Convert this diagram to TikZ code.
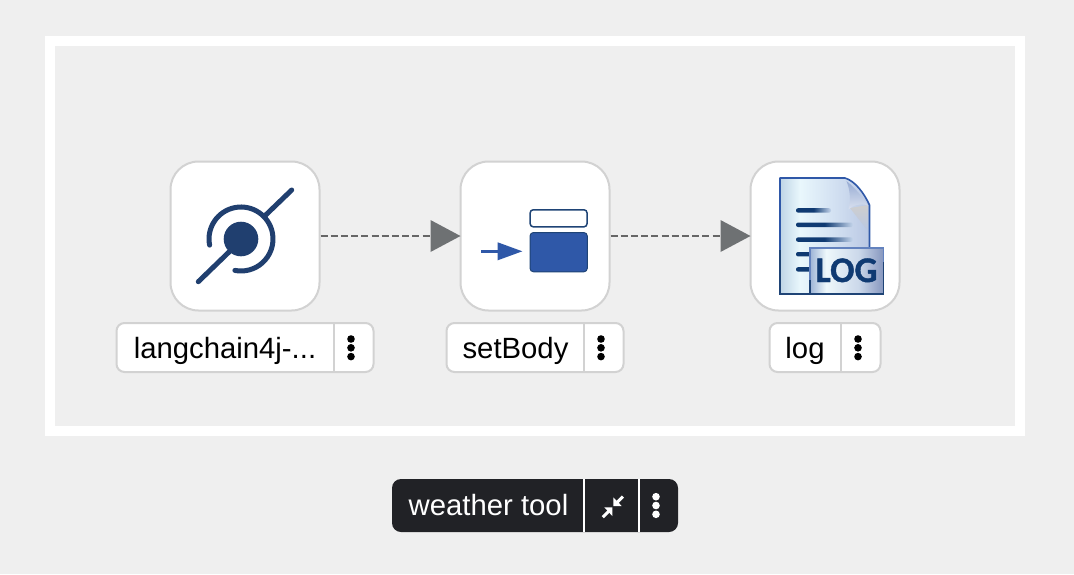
\documentclass[tikz,border=0pt]{standalone}
\usepackage{fontspec}
\setmainfont{Liberation Sans}
\newfontfamily\logfont[BoldFeatures={FakeBold=1.2}]{Carlito}
\usetikzlibrary{arrows.meta,calc}
\definecolor{bgc}{HTML}{EFEFEF}
\definecolor{edgec}{HTML}{D2D2D2}
\definecolor{navy}{HTML}{203F6F}
\definecolor{blu}{HTML}{2F58A8}
\definecolor{blud}{HTML}{1F4476}
\definecolor{tipc}{HTML}{6E7173}
\definecolor{dashc}{HTML}{666666}
\definecolor{darkc}{HTML}{212226}
\definecolor{logn}{HTML}{0F3A72}
\definecolor{pa}{HTML}{BFD5E6}
\definecolor{pb}{HTML}{E9F7FC}
\definecolor{pc}{HTML}{D3E1F2}
\definecolor{pd}{HTML}{B9C7E3}
\definecolor{ba}{HTML}{9DB4D6}
\definecolor{bb}{HTML}{EEF8FB}
\definecolor{bc}{HTML}{CBD8EA}
\definecolor{bd}{HTML}{8696BE}
\definecolor{fade}{HTML}{C6D6EC}
\pgfdeclarehorizontalshading{pageshade}{100bp}{color(0bp)=(pa); color(25bp)=(pa); color(36bp)=(pb); color(55bp)=(pc); color(75bp)=(pd); color(100bp)=(pd)}
\pgfdeclarehorizontalshading{boxshade}{100bp}{color(0bp)=(ba); color(25bp)=(ba); color(36bp)=(bb); color(58bp)=(bc); color(75bp)=(bd); color(100bp)=(bd)}
\pgfdeclarehorizontalshading{lineshade}{100bp}{color(0bp)=(logn); color(50bp)=(logn); color(75bp)=(fade); color(100bp)=(fade)}
\tikzset{
  x=1pt,y=-1pt,
  stepnode/.style={draw=edgec,line width=2pt,fill=white,rounded corners=28pt,minimum width=149pt,minimum height=149pt,inner sep=0pt,outer sep=0pt},
  labelbox/.style={draw=edgec,line width=2pt,fill=white,rounded corners=8pt,minimum height=49pt,inner sep=0pt},
  darkbox/.style={fill=darkc,rounded corners=9pt,minimum height=53pt,minimum width=286pt,inner sep=0pt},
  labeltext/.style={text=black,font=\fontsize{29.3}{34}\selectfont,inner sep=0pt,anchor=base},
  flow/.style={draw=dashc,line width=2pt,dash pattern=on 7pt off 3.2pt,shorten <=1pt,-{Triangle[length=30pt,width=32pt,color=tipc,fill=tipc,line width=0pt]}},
  iconline/.style={navy,line width=5pt,line cap=round},
  kebab/.style={circle,fill=black,minimum size=7.6pt,inner sep=0pt},
}
\begin{document}
\begin{tikzpicture}
\useasboundingbox (0,0) rectangle (1074,574);
\fill[bgc] (0,0) rectangle (1074,574);
\draw[white,line width=10pt] (50,41) rectangle (1020,431);
% step nodes
\node[stepnode] (n1) at (245,236) {};
\node[stepnode] (n2) at (535,236) {};
\node[stepnode] (n3) at (825,236) {};
\draw[flow] (n1) -- (n2);
\draw[flow] (n2) -- (n3);
% icon 1
\fill[navy] (241,239) circle[radius=17.3pt];
\draw[iconline] (209.6,245.1) arc[start angle=191,end angle=-101,radius=32pt];
\draw[iconline] (291.7,190) -- (265,215.7);
\draw[iconline] (198.3,281.7) -- (229,252);
% icon 2
\draw[blud,fill=white,line width=1.5pt,rounded corners=3pt] (530.2,209.8) rectangle (587,226.8);
\draw[blud,fill=blu,line width=1pt,rounded corners=3.5pt] (530,232.5) rectangle (587.3,271.8);
\draw[blu,line width=3.5pt] (481,251.3) -- (499,251.3);
\fill[blu] (497.7,242.3) -- (522.3,251.3) -- (497.7,260.3) -- cycle;
% icon 3
\path[shading=pageshade] (780,178) -- (845,178) .. controls (855,181) and (864,193) .. (869.5,205) -- (869.5,294) -- (780,294) -- cycle;
\path[top color=white!62!gray,bottom color=pd] (850,208) -- (868.7,205) -- (868.7,232) -- cycle;
\path[top color=white!50!blu,bottom color=white!82!blu] (846.5,181) .. controls (854,187) and (863,197) .. (868,205.5) .. controls (860,203) and (853,205) .. (848.5,209.5) .. controls (851,200) and (850,190) .. (846.5,181) -- cycle;
\draw[blu,line width=1.6pt,line join=round] (869.5,250) -- (869.5,205) .. controls (864,193) and (855,181) .. (845,178) -- (780,178) -- (780,250);
\draw[blud,line width=1.6pt] (780,250) -- (780,294) -- (812,294);
\path[shading=lineshade,rounded corners=2pt] (796,208.2) rectangle (831,212.6);
\path[shading=lineshade,rounded corners=2pt] (796,222.6) rectangle (853,227);
\path[shading=lineshade,rounded corners=2pt] (796,237.4) rectangle (853,241.8);
\fill[logn,rounded corners=2pt] (796,252) rectangle (812,256.4);
\fill[logn,rounded corners=2pt] (796,267.2) rectangle (812,271.6);
\path[shading=boxshade] (810,248) rectangle (883.5,294);
\draw[blu!75!white,line width=1.6pt] (810,294) -- (810,248) -- (883.5,248) -- (883.5,262);
\draw[blud,line width=1.6pt] (883.5,262) -- (883.5,294) -- (810,294) -- (810,280);
\node[text=logn,font=\logfont\bfseries\fontsize{36}{40}\selectfont,inner sep=0pt,anchor=base] (logword) at (846.5,282) {LOG};
% labels
\node[labelbox,minimum width=257pt] (l1) at (245,347.5) {};
\draw[edgec,line width=2pt] (334,323) -- (334,372);
\node[labeltext] (t1) at (225,358) {langchain4j-...};
\node[kebab] (k1a) at (351,339) {};
\node[kebab] (k1b) at (351,347.8) {};
\node[kebab] (k1c) at (351,356.6) {};
\node[labelbox,minimum width=177pt] (l2) at (535,347.5) {};
\draw[edgec,line width=2pt] (584,323) -- (584,372);
\node[labeltext] (t2) at (515.5,358) {setBody};
\node[kebab] (k2a) at (601,339) {};
\node[kebab] (k2b) at (601,347.8) {};
\node[kebab] (k2c) at (601,356.6) {};
\node[labelbox,minimum width=111pt] (l3) at (825,347.5) {};
\draw[edgec,line width=2pt] (841,323) -- (841,372);
\node[labeltext] (t3) at (805,358) {log};
\node[kebab] (k3a) at (858,339) {};
\node[kebab] (k3b) at (858,347.8) {};
\node[kebab] (k3c) at (858,356.6) {};
% group toolbar
\node[darkbox] (g) at (535,505.5) {};
\draw[white,line width=2pt] (584,479) -- (584,532);
\draw[white,line width=2pt] (639,479) -- (639,532);
\node[labeltext,text=white] (gt) at (488.5,515.5) {weather tool};
\node[kebab,fill=white] (k4a) at (656,496.7) {};
\node[kebab,fill=white] (k4b) at (656,505.5) {};
\node[kebab,fill=white] (k4c) at (656,514.3) {};
\draw[white,line width=3pt] (602.8,517.2) -- (609,511);
\fill[white] (612.3,507.3) -- (604.3,507.3) -- (612.3,516) -- cycle;
\draw[white,line width=3pt] (623,496.5) -- (617,502.5);
\fill[white] (613.3,506) -- (613.3,497.3) -- (621.7,506) -- cycle;
\end{tikzpicture}
\end{document}
